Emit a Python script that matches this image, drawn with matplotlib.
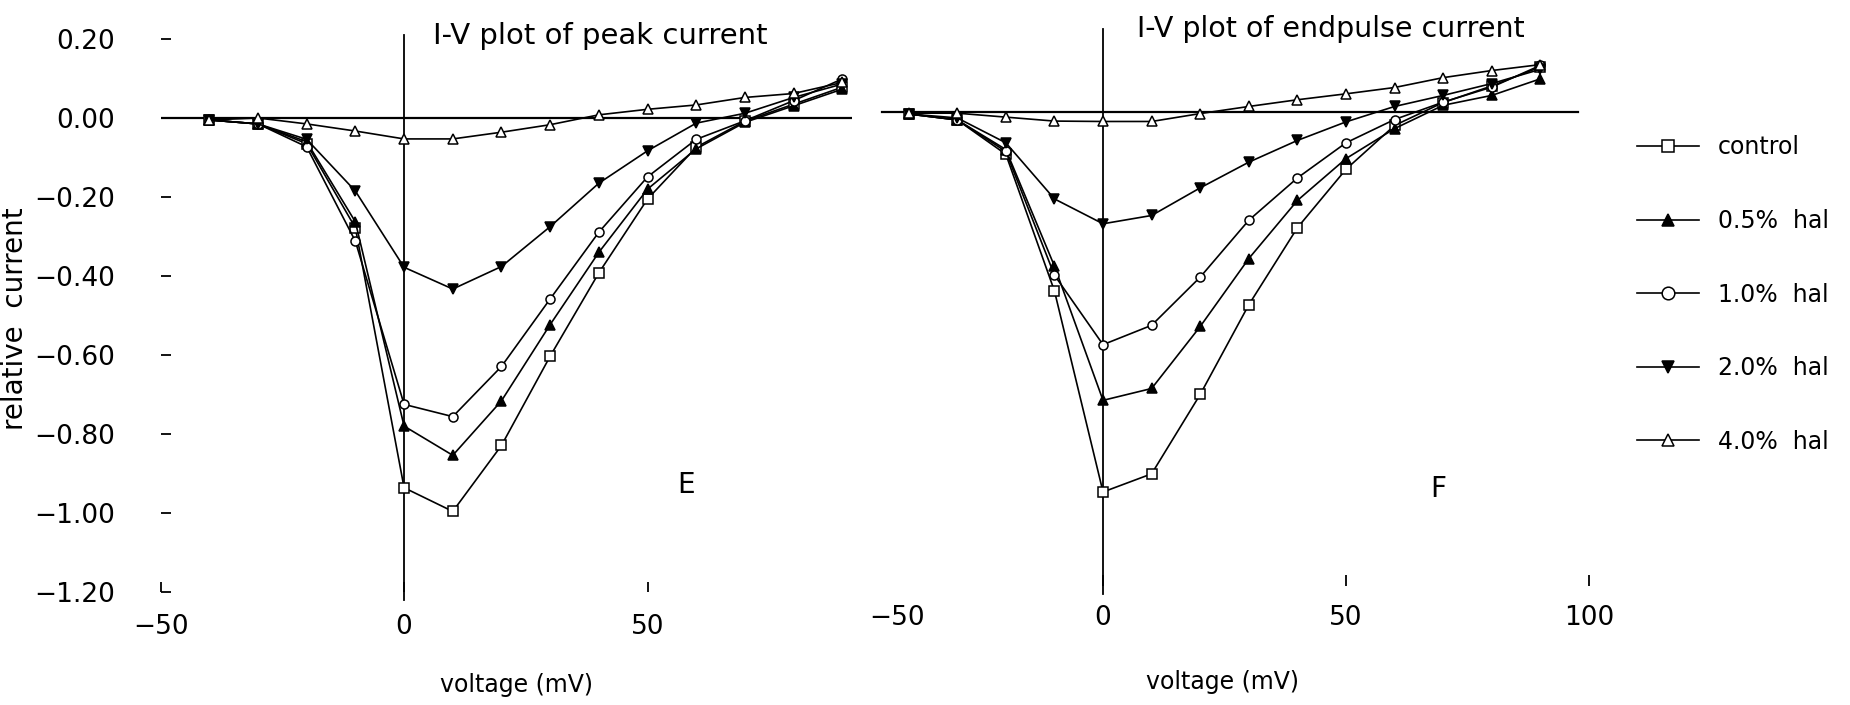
import numpy as np
import matplotlib
matplotlib.use("Agg")
from matplotlib import pyplot as plt
from matplotlib.transforms import ScaledTranslation

# membrane voltage (mV), same steps for both panels
volts = [-40, -30, -20, -10, 0, 10, 20, 30, 40, 50, 60, 70, 80, 90]

# panel E: peak current
peak_control = [-0.005, -0.015, -0.065, -0.278, -0.936, -0.996, -0.829, -0.603, -0.392, -0.205, -0.074, -0.008, 0.035, 0.078]
peak_hal05 = [-0.005, -0.015, -0.060, -0.263, -0.780, -0.854, -0.716, -0.523, -0.340, -0.180, -0.078, -0.011, 0.031, 0.073]
peak_hal10 = [-0.005, -0.015, -0.073, -0.312, -0.725, -0.756, -0.629, -0.458, -0.289, -0.149, -0.054, -0.007, 0.044, 0.099]
peak_hal20 = [-0.005, -0.015, -0.054, -0.185, -0.378, -0.433, -0.376, -0.275, -0.165, -0.083, -0.013, 0.012, 0.052, 0.086]
peak_hal40 = [-0.005, 0.000, -0.015, -0.033, -0.053, -0.053, -0.036, -0.017, 0.008, 0.022, 0.033, 0.052, 0.062, 0.090]

# panel F: endpulse current
end_control = [-0.005, -0.020, -0.107, -0.453, -0.962, -0.916, -0.715, -0.488, -0.293, -0.145, -0.034, 0.024, 0.066, 0.114]
end_hal05 = [-0.005, -0.020, -0.095, -0.390, -0.730, -0.700, -0.543, -0.371, -0.224, -0.118, -0.042, 0.017, 0.042, 0.084]
end_hal10 = [-0.005, -0.020, -0.100, -0.413, -0.589, -0.540, -0.418, -0.274, -0.167, -0.078, -0.019, 0.025, 0.063, 0.118]
end_hal20 = [-0.005, -0.015, -0.078, -0.220, -0.283, -0.262, -0.192, -0.127, -0.072, -0.025, 0.014, 0.042, 0.072, 0.108]
end_hal40 = [-0.003, -0.003, -0.013, -0.023, -0.024, -0.024, -0.004, 0.014, 0.031, 0.046, 0.062, 0.087, 0.105, 0.120]

labels = ['control', '0.5%  hal', '1.0%  hal', '2.0%  hal', '4.0%  hal']
yticks = [0.20, 0.00, -0.20, -0.40, -0.60, -0.80, -1.00, -1.20]

plt.rcParams['font.family'] = ['DejaVu Sans']

fig = plt.figure(figsize=(18.5, 7.05), dpi=100)
ax1 = fig.add_axes([0.0868, 0.1603, 0.3738, 0.790])
ax2 = fig.add_axes([0.4649, 0.1688, 0.394, 0.790])

styles = [
    dict(marker='s', mfc='white'),
    dict(marker='^', mfc='black'),
    dict(marker='o', mfc='white'),
    dict(marker='v', mfc='black'),
    dict(marker='^', mfc='white'),
]

def draw_panel(ax, series, xmax, hl_from, hl_to):
    handles = []
    for vals, lab, st in zip(series, labels, styles):
        h, = ax.plot(volts, vals, color='black', linewidth=1.2, markersize=6.5,
                     mec='black', mew=1.1, label=lab, **st)
        handles.append(h)
    ax.axhline(0, xmin=hl_from, xmax=hl_to, color='black', linewidth=1.6, zorder=1)
    ax.axvline(0, ymin=-0.015, color='black', linewidth=1.3, zorder=1, clip_on=False)
    ax.set_xlim(-50, xmax)
    ax.set_ylim(-1.2, 0.21)
    for s in ax.spines.values():
        s.set_visible(False)
    return handles

handles = draw_panel(ax1, [peak_control, peak_hal05, peak_hal10, peak_hal20, peak_hal40], 92, 0.0, 1.0)
draw_panel(ax2, [end_control, end_hal05, end_hal10, end_hal20, end_hal40], 100, 0.03, 0.985)

ax1.set_xticks([-50, 0, 50])
ax1.set_xticklabels(['\u221250', '0', '50'])
ax1.set_yticks(yticks)
ax1.set_yticklabels(['%.2f' % v if v >= 0 else '\u2212%.2f' % abs(v) for v in yticks])
ax1.tick_params(axis='x', direction='in', length=7, width=1.3, labelsize=19, pad=16)
ax1.tick_params(axis='y', direction='in', length=7, width=1.3, labelsize=19, pad=33)

ax2.set_xticks([-50, 0, 50, 100])
ax2.set_xticklabels(['\u221250', '0', '50', '100'])
ax2.set_yticks([])
ax2.tick_params(axis='x', direction='in', length=8, width=1.3, labelsize=19, pad=14)
# the scanned figure has no tick mark at -50 on panel F, and its label sits further right
ax2.xaxis.get_major_ticks()[0].tick1line.set_visible(False)
lbl = ax2.get_xticklabels()[0]
lbl.set_transform(lbl.get_transform() + ScaledTranslation(0.37, 0, fig.dpi_scale_trans))

ax1.set_ylabel('relative  current', fontsize=20)
ax1.yaxis.set_label_coords(-0.19, 0.49)
ax1.set_xlabel('voltage (mV)', fontsize=17)
ax1.xaxis.set_label_coords(0.514, -0.146)
ax2.set_xlabel('voltage (mV)', fontsize=17)
ax2.xaxis.set_label_coords(0.497, -0.150)

ax1.text(0.636, 0.998, 'I-V plot of peak current', transform=ax1.transAxes,
         ha='center', va='center', fontsize=21)
ax2.text(0.646, 1.0, 'I-V plot of endpulse current', transform=ax2.transAxes,
         ha='center', va='center', fontsize=20.5)

ax1.text(58, -0.93, 'E', fontsize=20, ha='center', va='center')
ax2.text(69, -0.955, 'F', fontsize=20, ha='center', va='center')

fig.legend(handles=handles, loc='upper left', bbox_to_anchor=(0.885, 0.808),
           frameon=False, fontsize=17, labelspacing=2.1, handlelength=2.6,
           handletextpad=0.8, borderpad=0, borderaxespad=0, markerscale=1.4)

plt.savefig('out.png', dpi=100)
